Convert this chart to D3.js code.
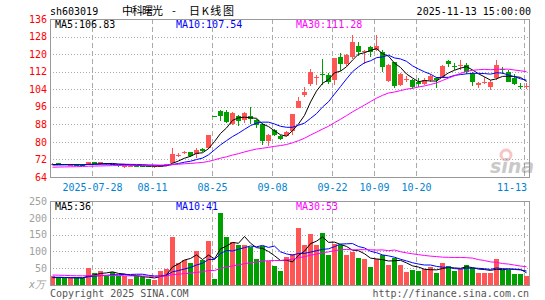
<!DOCTYPE html>
<html>
<head>
<meta charset="utf-8">
<script src="https://cdn.jsdelivr.net/npm/d3@7"></script>
<style>
body { margin: 0; background: #fff; }
svg { display: block; font-family: "DejaVu Sans Mono", monospace; font-size: 10px; }
</style>
</head>
<body>
<script>
/* sh603019 daily K-line, Sina style */

const dates = [
	"2025-07-17","2025-07-18","2025-07-21","2025-07-22","2025-07-23","2025-07-24","2025-07-25","2025-07-28","2025-07-29","2025-07-30",
	"2025-07-31","2025-08-01","2025-08-04","2025-08-05","2025-08-06","2025-08-07","2025-08-08","2025-08-11","2025-08-12","2025-08-13",
	"2025-08-14","2025-08-15","2025-08-18","2025-08-19","2025-08-20","2025-08-21","2025-08-22","2025-08-25","2025-08-26","2025-08-27",
	"2025-08-28","2025-08-29","2025-09-01","2025-09-02","2025-09-03","2025-09-04","2025-09-05","2025-09-08","2025-09-09","2025-09-10",
	"2025-09-11","2025-09-12","2025-09-15","2025-09-16","2025-09-17","2025-09-18","2025-09-19","2025-09-22","2025-09-23","2025-09-24",
	"2025-09-25","2025-09-26","2025-09-29","2025-09-30","2025-10-09","2025-10-10","2025-10-13","2025-10-14","2025-10-15","2025-10-16",
	"2025-10-17","2025-10-20","2025-10-21","2025-10-22","2025-10-23","2025-10-24","2025-10-27","2025-10-28","2025-10-29","2025-10-30",
	"2025-10-31","2025-11-03","2025-11-04","2025-11-05","2025-11-06","2025-11-07","2025-11-10","2025-11-11","2025-11-12","2025-11-13"
]

const opens = [
	69.8,70.4,69.7,69.5,69.6,69.6,69.5,70.8,69.8,70.5, 69.8,69.3,68.5,69.1,69.1,69.0,68.9,68.4,69.0,69.3,
	70.6,73.8,75.0,75.4,74.5,76.6,77.0,91.6,94.1,93.5, 88.2,91.6,90.0,91.6,90.0,88.1,80.3,85.5,82.8,82.8,
	85.1,95.6,101.4,106.2,109.3,111.1,110.4,108.1,118.7,115.7, 118.7,123.6,121.2,123.2,122.1,121.0,107.7,116.4,105.9,108.4,
	108.1,107.4,106.6,108.1,109.2,109.6,116.7,114.6,114.8,114.9, 111.1,105.9,107.2,105.1,108.9,113.4,111.9,108.9,105.6,105.2
]
const closes = [
	70.0,69.6,69.5,69.6,69.4,69.4,70.8,69.9,70.7,69.8, 69.7,69.2,69.4,69.2,69.0,68.9,68.6,69.0,69.2,69.8,
	74.5,74.0,75.3,73.6,76.5,75.8,83.3,91.6,92.0,89.0, 93.1,89.3,93.0,90.5,87.8,80.3,83.3,83.3,81.5,84.5,
	92.9,98.6,102.9,111.9,109.5,110.4,107.4,118.2,115.7,119.4, 125.7,120.9,121.5,120.9,123.5,114.2,115.2,105.6,111.1,108.6,
	105.1,106.6,108.4,110.1,108.4,114.6,115.7,114.4,114.9,111.9, 107.1,106.9,107.4,107.4,114.9,112.6,107.4,106.6,105.4,105.6
]
const highs = [
	70.3,70.6,69.9,69.8,69.8,69.8,71.0,71.0,70.9,70.6, 70.0,69.6,69.6,69.4,69.3,69.2,69.0,69.2,69.6,70.0,
	77.2,74.8,76.0,75.6,77.0,77.3,83.3,91.6,94.6,94.5, 93.6,92.4,93.7,96.0,90.4,88.4,83.6,85.8,83.2,84.8,
	92.9,100.6,105.0,113.4,110.7,117.9,111.5,118.2,120.7,120.0, 128.5,125.7,121.9,123.6,128.7,121.8,115.6,116.4,111.5,110.1,
	108.5,108.9,109.3,111.1,109.6,115.2,117.2,116.0,117.2,116.1, 111.9,107.4,109.6,108.1,117.2,114.0,112.6,111.1,106.9,106.9
]
const lows = [
	69.5,69.4,69.3,69.3,69.2,69.2,69.4,69.7,69.6,69.5, 69.4,68.5,68.3,68.9,68.8,68.7,68.4,68.2,68.8,69.1,
	70.4,73.0,74.5,73.3,72.8,75.5,76.8,91.6,89.3,88.6, 87.6,87.4,88.5,88.0,86.4,78.5,78.0,82.5,81.0,82.8,
	83.3,95.3,100.6,105.6,105.9,105.9,106.2,105.9,112.2,114.5, 118.0,119.1,115.7,118.6,121.6,111.8,107.4,104.7,105.6,107.1,
	104.3,105.1,106.1,107.4,104.7,109.1,113.9,112.9,112.6,111.1, 105.6,104.7,106.6,103.6,108.1,111.1,107.1,105.9,104.0,104.0
]
// volume, x万
const volumes = [
	26,23,20,20,20,22,52,36,42,28, 38,28,28,19,27,23,19,16,42,48,
	143,65,74,65,101,74,131,18,214,143, 127,119,119,114,77,116,72,57,42,82,
	91,170,119,153,119,155,89,122,119,89, 99,81,77,54,77,89,60,81,60,39,
	45,42,48,54,36,65,57,42,48,60, 52,35,35,35,78,45,45,32,32,28
]
// closes / volumes of the 29 sessions before the window (estimated), needed for the MAs
const prevCloses = [67.2,67.8,68.1,67.5,66.9,67.3,67.9,68.4,68.0,67.6,67.1,67.4,68.2,68.6,68.3,67.9,68.5,68.9,68.7,69.0,69.2,68.8,69.1,69.3,69.6,69.4,69.8,69.5,69.7]
const prevVolumes = [38,35,42,31,29,36,44,33,30,27,35,40,32,28,31,37,34,29,26,24,22,25,27,23,24,19,21,22,20]

const priceTicks = [64,72,80,88,96,104,112,120,128,136]
const volTicks = [50,100,150,200,250]
const dateTicks = ["2025-07-28","2025-08-11","2025-08-25","2025-09-08","2025-09-22","2025-10-09","2025-10-20","2025-11-13"]

const maPeriods = [5,10,30]
const maColors = ["#000000","#0000ff","#ff00ff"]
const priceLegend = ["MA5:106.83","MA10:107.54","MA30:111.28"]
const volLegend = ["MA5:36","MA10:41","MA30:53"]

const RED = "#ff5555", GREEN = "#009f00", FRAME = "#999"

const W = 545, H = 300
const left = 50, right = 530
const pTop = 19, pBot = 177
const vTop = 201, vBot = 285

let svg = d3.select("body").append("svg").attr("width", W).attr("height", H)

let x = d3.scaleBand().domain(dates).range([left, right]).padding(0)
let y = d3.scaleLinear().domain([64,136]).range([pBot, pTop])
let yv = d3.scaleLinear().domain([0,250]).range([vBot, vTop])

function movingAvg( hist, vals, n ){
	let all = hist.concat(vals)
	let off = hist.length
	return vals.map((v,i) => {
		let s = 0
		for( let k = off + i - n + 1 ; k <= off + i ; k ++ ) s += all[k]
		return s / n
	})
}
let up = i => closes[i] > opens[i]

// ---- grid ----
let grid = svg.append("g").attr("shape-rendering","crispEdges")
grid.selectAll(".hp").data(priceTicks.slice(1,-1)).join("line")
	.attr("x1", left).attr("x2", right)
	.attr("y1", d => Math.round(y(d)) + 0.5).attr("y2", d => Math.round(y(d)) + 0.5)
	.attr("stroke", "#aaa").attr("stroke-dasharray","1,2")
grid.selectAll(".hv").data(volTicks.slice(0,-1)).join("line")
	.attr("x1", left).attr("x2", right)
	.attr("y1", d => Math.round(yv(d)) + 0.5).attr("y2", d => Math.round(yv(d)) + 0.5)
	.attr("stroke", "#aaa").attr("stroke-dasharray","1,2")
for( let [t,b] of [[pTop,pBot],[vTop,vBot]] ){
	grid.append("g").selectAll("line").data(dateTicks).join("line")
		.attr("x1", d => x(d) + 0.5).attr("x2", d => x(d) + 0.5)
		.attr("y1", t).attr("y2", b)
		.attr("stroke", "#aaa").attr("stroke-dasharray","5,3")
}

// ---- candles ----
let cg = svg.append("g").attr("shape-rendering","crispEdges")
dates.forEach((d,i) => {
	let col = up(i) ? RED : GREEN
	let yh = Math.round(y(highs[i])), yl = Math.round(y(lows[i]))
	cg.append("rect").attr("x", x(d) + 2).attr("width", 1)
		.attr("y", yh).attr("height", Math.max(1, yl - yh)).attr("fill", col)
	let yt = Math.round(y(Math.max(opens[i], closes[i])))
	let yb = Math.round(y(Math.min(opens[i], closes[i])))
	cg.append("rect").attr("x", x(d)).attr("width", 5)
		.attr("y", yt).attr("height", Math.max(1, yb - yt)).attr("fill", col)
})

// ---- volume bars ----
svg.append("g").attr("shape-rendering","crispEdges")
	.selectAll("rect").data(volumes).join("rect")
	.attr("x", (v,i) => x(dates[i]))
	.attr("width", 5)
	.attr("y", v => Math.round(yv(v)))
	.attr("height", v => vBot - Math.round(yv(v)))
	.attr("fill", (v,i) => up(i) ? RED : GREEN)

// ---- MA lines ----
let cx = i => x(dates[i]) + 2.5
maPeriods.forEach((n,k) => {
	let pm = movingAvg(prevCloses, closes, n)
	svg.append("path").datum(pm)
		.attr("fill","none").attr("stroke", maColors[k]).attr("stroke-width", 1)
		.attr("d", d3.line().x((d,i) => cx(i)).y(d => y(d)))
	let vm = movingAvg(prevVolumes, volumes, n)
	svg.append("path").datum(vm)
		.attr("fill","none").attr("stroke", maColors[k]).attr("stroke-width", 1)
		.attr("d", d3.line().x((d,i) => cx(i)).y(d => yv(d)))
})

// ---- frames ----
svg.append("rect").attr("x", left + 0.5).attr("y", pTop + 0.5)
	.attr("width", right - left - 1).attr("height", pBot - pTop)
	.attr("fill","none").attr("stroke", FRAME).attr("shape-rendering","crispEdges")
svg.append("rect").attr("x", left + 0.5).attr("y", vTop + 0.5)
	.attr("width", right - left - 1).attr("height", vBot - vTop)
	.attr("fill","none").attr("stroke", FRAME).attr("shape-rendering","crispEdges")

// ---- axes ----
let ya = svg.append("g").attr("transform", "translate(47,0)")
	.call(d3.axisLeft(y).tickValues(priceTicks).tickSize(0).tickPadding(0))
ya.select(".domain").remove()
ya.selectAll("text").attr("fill", "#ff0000").style("font-family", "DejaVu Sans Mono").style("font-size","10px")

let yva = svg.append("g").attr("transform", "translate(47,0)")
	.call(d3.axisLeft(yv).tickValues(volTicks).tickSize(0).tickPadding(0))
yva.select(".domain").remove()
yva.selectAll("text").attr("fill", "#a0a0a0").style("font-family", "DejaVu Sans Mono").style("font-size","10px")

let xa = svg.append("g").attr("transform", `translate(0,${pBot})`)
	.call(d3.axisBottom(x).tickValues(dateTicks).tickSize(0).tickPadding(6.4)
		.tickFormat((d,i) => i === 0 ? d : d.slice(5)))
xa.select(".domain").remove()
xa.selectAll("text").attr("fill", "#0082d2").attr("x", -2.5)
	.style("font-family", "DejaVu Sans Mono").style("font-size","10px")
xa.selectAll("text").filter(d => d === dateTicks[dateTicks.length - 1])
	.attr("text-anchor", "end").attr("x", 0)

// ---- legends ----
let legX = [55, 176, 296]
priceLegend.forEach((t,k) => svg.append("text").attr("x", legX[k]).attr("y", 28).attr("fill", maColors[k]).text(t))
volLegend.forEach((t,k) => svg.append("text").attr("x", legX[k]).attr("y", 210).attr("fill", maColors[k]).text(t))

// ---- titles ----
svg.append("text").attr("x", 50).attr("y", 15).text("sh603019")
let cjk = t => t.style("font-family", "'Noto Sans CJK SC'").style("font-size","11px")
svg.append("text").attr("x", 122).attr("y", 15).call(cjk)
	.attr("textLength", 41).attr("lengthAdjust", "spacing").text("中科曙光")
svg.append("text").attr("x", 174).attr("y", 15).attr("text-anchor","middle").call(cjk).text("-")
svg.append("text").attr("x", 189).attr("y", 15).call(cjk)
	.attr("textLength", 45).attr("lengthAdjust", "spacing").text("日K线图")
svg.append("text").attr("x", 531).attr("y", 15).attr("text-anchor","end").text("2025-11-13 15:00:00")
svg.append("text").attr("x", 29).attr("y", 288).attr("fill", "#a0a0a0").style("font-style","italic").text("x万")
svg.append("text").attr("x", 50).attr("y", 297).attr("fill", "#555").text("Copyright 2025 SINA.COM")
svg.append("text").attr("x", 529).attr("y", 297).attr("text-anchor","end").attr("fill", "#555").text("http://finance.sina.com.cn")

// sina watermark
let wm = svg.append("g").attr("opacity", 0.45)
wm.append("circle").attr("cx", 506).attr("cy", 155).attr("r", 5).attr("fill", "none").attr("stroke", "#f08080").attr("stroke-width", 3)
wm.append("text").attr("x", 512).attr("y", 173).attr("text-anchor","middle")
	.style("font-family","'DejaVu Sans'").style("font-size","19px").style("font-weight","bold").style("font-style","italic")
	.attr("fill", "#888").text("sina")
</script>
</body>
</html>
